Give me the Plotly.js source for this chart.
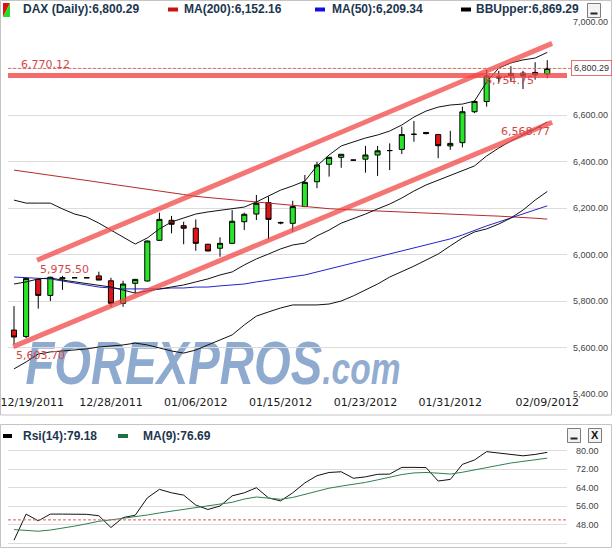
<!DOCTYPE html>
<html>
<head>
<meta charset="utf-8">
<script src="https://cdn.plot.ly/plotly-3.0.1.min.js"></script>
<style>
html,body{margin:0;padding:0;background:#fff;}
#chart{width:613px;height:548px;}
</style>
</head>
<body>
<div id="chart"></div>
<script>
// ---------- DATA ----------
const session = [0,1,2,3,4,5,6,7,8,9,10,11,12,13,14,15,16,17,18,19,20,21,22,23,24,25,26,27,28,29,30,31,32,33,34,35,36,37,38,39,40,41,42,43,44];
const openP  = [5675,5647,5893,5824,5895,5900,5900,5908,5887,5790,5876,5886,6061,6147,6124,6113,6044,6027,6048,6141,6174,6223,6138,6134,6206,6313,6388,6418,6406,6410,6428,6447,6452,6517,6525,6516,6467,6481,6614,6658,6762,6770,6780,6783,6776];
const highP  = [5778,5902,5897,5905,5908,5900,5900,5926,5900,5887,5895,6060,6180,6166,6141,6151,6046,6074,6191,6180,6256,6249,6141,6231,6342,6399,6418,6431,6408,6467,6467,6478,6550,6574,6526,6516,6532,6636,6663,6794,6790,6810,6790,6827,6836];
const lowP   = [5615,5640,5767,5800,5848,5900,5900,5890,5775,5775,5833,5884,6058,6091,6044,6016,6014,5990,6045,6105,6148,6065,6130,6098,6204,6285,6335,6373,6404,6352,6338,6363,6432,6485,6517,6414,6450,6461,6608,6636,6740,6747,6712,6752,6758];
const closeP = [5645,5897,5824,5902,5900,5900,5900,5890,5790,5873,5893,6058,6151,6130,6113,6048,6015,6048,6143,6173,6220,6151,6136,6206,6310,6385,6418,6431,6406,6428,6446,6447,6516,6517,6520,6468,6478,6614,6658,6768,6760,6779,6770,6773,6800.29];

const ma200   = [6363,6356,6348,6341,6333,6326,6318,6311,6303,6296,6288,6280,6273,6265,6258,6250,6245,6240,6236,6231,6226,6222,6216,6212,6207,6202,6197,6194,6192,6190,6188,6185,6183,6181,6179,6176,6174,6172,6170,6167,6165,6163,6161,6156,6152.16];
const ma50    = [5903,5901,5899,5895,5886,5877,5869,5860,5856,5852,5852,5852,5852,5856,5856,5860,5860,5865,5869,5873,5882,5890,5895,5903,5912,5925,5938,5950,5963,5976,5989,6002,6015,6028,6041,6054,6067,6084,6105,6123,6140,6157,6174,6191,6209.34];
const bbUpper = [6234,6221,6221,6221,6196,6174,6161,6135,6105,6075,6045,6071,6110,6140,6157,6174,6183,6191,6196,6204,6226,6252,6277,6295,6316,6381,6428,6467,6484,6501,6514,6531,6557,6591,6617,6634,6643,6647,6660,6742,6802,6824,6837,6845,6869.29];
const bbMid   = [5873,5882,5895,5899,5890,5882,5877,5869,5860,5847,5834,5843,5852,5860,5869,5882,5895,5912,5925,5955,5981,6002,6024,6041,6049,6080,6105,6135,6153,6174,6196,6217,6243,6273,6299,6320,6342,6363,6381,6424,6458,6488,6514,6540,6570];
const bbLower = [5508,5538,5572,5581,5585,5589,5594,5602,5606,5611,5619,5611,5598,5585,5576,5589,5611,5632,5654,5697,5735,5753,5770,5783,5783,5783,5787,5800,5822,5847,5873,5903,5925,5950,5976,6002,6037,6071,6097,6110,6131,6157,6191,6234,6271];

const rsi14 = [41.2,52.5,49.6,52.5,52.5,52.4,52.4,51.8,46.7,51.0,52.0,59.5,63.2,61.7,60.7,56.4,54.5,56.0,60.4,61.7,63.9,59.5,58.2,61.7,66.0,69.1,70.5,70.8,68.0,68.6,69.7,69.8,72.7,72.7,72.6,66.8,67.5,74.0,75.9,79.5,78.8,78.3,77.7,78.3,79.18];
const rsiMa9 = [45.8,45.4,45.1,45.6,46.3,47.3,48.3,49.4,50.0,50.6,51.3,52.1,53.0,53.8,54.6,55.4,56.0,56.7,57.6,59.0,59.9,59.4,58.9,59.7,61.0,62.4,63.7,64.6,65.3,66.2,67.3,68.4,69.6,70.3,70.5,70.2,69.8,70.6,71.7,72.8,73.6,74.6,75.3,76.0,76.69];

const tickPos   = [1.5, 8, 15, 22, 29, 36, 44];
const tickLabel = ['12/19/2011','12/28/2011','01/06/2012','01/15/2012','01/23/2012','01/31/2012','02/09/2012'];

const channelUpperX = [1.9, 44.4];
const channelUpperY = [5975.5, 6908];
const channelLowerX = [-0.06, 44.4];
const channelLowerY = [5603.7, 6568.77];
const resistance = 6770.12;
const lastClose = 6800.29;

// text labels on drawings
const drawLabels = [
  {text:'6,770.12', x:0.45, y:6819, anchor:'left'},
  {text:'5,975.50', x:4.17, y:5936, anchor:'center'},
  {text:'5,603.70', x:2.2,  y:5566, anchor:'center'},
  {text:'6,754.75', x:40.85,y:6750, anchor:'center'},
  {text:'6,568.77', x:42.2, y:6528, anchor:'center'}
];

// ---------- LAYOUT HELPERS ----------
const W = 613, H = 548;
const px = v => v / W;
const py = v => 1 - v / H;
const xDom = [px(8), px(567)];
const xRange = [-0.495, 45.63];
const chanColor = 'rgba(242,70,70,0.75)';

const traces = [
  {type:'scatter', mode:'lines', x:session, y:ma200, xaxis:'x', yaxis:'y', line:{color:'#b52a2a', width:1}, hoverinfo:'skip'},
  {type:'scatter', mode:'lines', x:session, y:ma50,  xaxis:'x', yaxis:'y', line:{color:'#2323c8', width:1}, hoverinfo:'skip'},
  {type:'scatter', mode:'lines', x:session, y:bbUpper, xaxis:'x', yaxis:'y', line:{color:'#111', width:1}, hoverinfo:'skip'},
  {type:'scatter', mode:'lines', x:session, y:bbMid,   xaxis:'x', yaxis:'y', line:{color:'#111', width:1}, hoverinfo:'skip'},
  {type:'scatter', mode:'lines', x:session, y:bbLower, xaxis:'x', yaxis:'y', line:{color:'#111', width:1}, hoverinfo:'skip'},
  {type:'candlestick', x:session, open:openP, high:highP, low:lowP, close:closeP, xaxis:'x', yaxis:'y',
   increasing:{line:{color:'#000', width:1}, fillcolor:'#27e627'},
   decreasing:{line:{color:'#000', width:1}, fillcolor:'#e41414'},
   hoverinfo:'skip'},
  {type:'scatter', mode:'lines', x:channelUpperX, y:channelUpperY, xaxis:'x', yaxis:'y', line:{color:chanColor, width:5}, hoverinfo:'skip'},
  {type:'scatter', mode:'lines', x:channelLowerX, y:channelLowerY, xaxis:'x', yaxis:'y', line:{color:chanColor, width:5}, hoverinfo:'skip'},
  {type:'scatter', mode:'lines', x:session, y:rsi14,  xaxis:'x2', yaxis:'y2', line:{color:'#111', width:1}, hoverinfo:'skip'},
  {type:'scatter', mode:'lines', x:session, y:rsiMa9, xaxis:'x2', yaxis:'y2', line:{color:'#2f7f50', width:1}, hoverinfo:'skip'}
];

const legendFont = {family:'Liberation Sans, Arial, sans-serif', size:12, color:'#1c3650', weight:'bold'};
const redFont = {family:'DejaVu Sans, Verdana, sans-serif', size:11, color:'#d44848'};

const annotations = [
  {xref:'paper', yref:'paper', x:px(212.5), y:py(362), text:'<b><i>FOREXPROS<span style="font-size:44px">.com</span></i></b>', showarrow:false,
   xanchor:'center', yanchor:'middle', font:{family:'Liberation Sans, Arial, sans-serif', size:62, color:'rgba(72,118,178,0.62)'}},
  {xref:'paper', yref:'paper', x:px(20.5), y:py(9), text:'<b>DAX (Daily):6,800.29</b>', showarrow:false, xanchor:'left', yanchor:'middle', font:legendFont},
  {xref:'paper', yref:'paper', x:px(181.5), y:py(9), text:'<b>MA(200):6,152.16</b>', showarrow:false, xanchor:'left', yanchor:'middle', font:legendFont},
  {xref:'paper', yref:'paper', x:px(330), y:py(9), text:'<b>MA(50):6,209.34</b>', showarrow:false, xanchor:'left', yanchor:'middle', font:legendFont},
  {xref:'paper', yref:'paper', x:px(474), y:py(9), text:'<b>BBUpper:6,869.29</b>', showarrow:false, xanchor:'left', yanchor:'middle', font:legendFont},
  {xref:'paper', yref:'paper', x:px(20.5), y:py(436), text:'<b>Rsi(14):79.18</b>', showarrow:false, xanchor:'left', yanchor:'middle', font:legendFont},
  {xref:'paper', yref:'paper', x:px(140.5), y:py(436), text:'<b>MA(9):76.69</b>', showarrow:false, xanchor:'left', yanchor:'middle', font:legendFont},
  {xref:'paper', yref:'paper', x:px(595), y:py(435), text:'<b>X</b>', showarrow:false, xanchor:'center', yanchor:'middle', font:{family:'Liberation Sans, Arial', size:11, color:'#111'}},
  {xref:'paper', yref:'y', x:px(591.5), y:lastClose, text:'6,800.29', showarrow:false, xanchor:'center', yanchor:'middle',
   font:{family:'Liberation Sans Narrow, Liberation Sans, Arial', size:9, color:'#333'}, bgcolor:'#fff', bordercolor:'#e07272', borderwidth:1, borderpad:2}
];
drawLabels.forEach(l => annotations.push({xref:'x', yref:'y', x:l.x, y:l.y, text:l.text, showarrow:false,
  xanchor:l.anchor, yanchor:'middle', font:redFont}));

const shapes = [
  {type:'rect', xref:'paper', yref:'paper', x0:px(0.5), x1:px(611.5), y0:py(415), y1:py(0.5), line:{color:'#c4c4c4', width:1}, layer:'below'},
  {type:'rect', xref:'paper', yref:'paper', x0:px(0.5), x1:px(611.5), y0:py(547.5), y1:py(424.5), line:{color:'#c4c4c4', width:1}, layer:'below'},
  {type:'line', xref:'paper', yref:'y', x0:px(8), x1:px(572), y0:lastClose, y1:lastClose, line:{color:'#e26a6a', width:1, dash:'3px,2px'}},
  {type:'line', xref:'x domain', yref:'y', x0:0, x1:1, y0:resistance, y1:resistance, line:{color:'rgba(242,70,70,0.8)', width:5}},
  {type:'line', xref:'x2 domain', yref:'y2', x0:0, x1:1, y0:50, y1:50, line:{color:'#e05a5a', width:1, dash:'3px,2px'}},
  // legend icons
  {type:'path', xref:'paper', yref:'paper', path:`M${px(3)},${py(3)} L${px(10)},${py(3)} L${px(3)},${py(17)} Z`, fillcolor:'#dd1111', line:{width:0}},
  {type:'path', xref:'paper', yref:'paper', path:`M${px(10)},${py(3)} L${px(10)},${py(17)} L${px(3)},${py(17)} Z`, fillcolor:'#22dd22', line:{width:0}},
  {type:'rect', xref:'paper', yref:'paper', x0:px(168), x1:px(178), y0:py(11.5), y1:py(7.5), fillcolor:'#cc1111', line:{width:0}},
  {type:'rect', xref:'paper', yref:'paper', x0:px(315), x1:px(325), y0:py(11.5), y1:py(7.5), fillcolor:'#1111dd', line:{width:0}},
  {type:'rect', xref:'paper', yref:'paper', x0:px(461), x1:px(471), y0:py(11.5), y1:py(7.5), fillcolor:'#000', line:{width:0}},
  {type:'rect', xref:'paper', yref:'paper', x0:px(3), x1:px(12), y0:py(438), y1:py(434), fillcolor:'#000', line:{width:0}},
  {type:'rect', xref:'paper', yref:'paper', x0:px(118), x1:px(128), y0:py(438), y1:py(434), fillcolor:'#1e6e46', line:{width:0}},
  // buttons
  {type:'rect', xref:'paper', yref:'paper', x0:px(587.5), x1:px(600.5), y0:py(17.5), y1:py(3.5), fillcolor:'#f3f3f3', line:{color:'#7d7d7d', width:1}},
  {type:'line', xref:'paper', yref:'paper', x0:px(590.5), x1:px(597.5), y0:py(13.5), y1:py(13.5), line:{color:'#222', width:2}},
  {type:'rect', xref:'paper', yref:'paper', x0:px(567.5), x1:px(580.5), y0:py(442.5), y1:py(428.5), fillcolor:'#f3f3f3', line:{color:'#7d7d7d', width:1}},
  {type:'line', xref:'paper', yref:'paper', x0:px(570.5), x1:px(577.5), y0:py(438.5), y1:py(438.5), line:{color:'#222', width:2}},
  {type:'rect', xref:'paper', yref:'paper', x0:px(588.5), x1:px(601.5), y0:py(442.5), y1:py(428.5), fillcolor:'#f3f3f3', line:{color:'#7d7d7d', width:1}}
];

const axisTickFont = {family:'Liberation Sans Narrow, Liberation Sans, Arial', size:9, color:'#444'};

const layout = {
  width:W, height:H, margin:{l:0, r:0, t:0, b:0},
  paper_bgcolor:'#fff', plot_bgcolor:'rgba(0,0,0,0)',
  showlegend:false, hovermode:false, dragmode:false, boxgap:0.4,
  xaxis:{domain:xDom, range:xRange, anchor:'y', tickmode:'array', tickvals:tickPos, ticktext:tickLabel,
         tickfont:{family:'DejaVu Sans, Verdana, sans-serif', size:11, color:'#1a1a1a'},
         showgrid:false, zeroline:false, showline:false, ticks:'', rangeslider:{visible:false}, fixedrange:true},
  yaxis:{domain:[py(394), py(22)], range:[5400, 7000], anchor:'x', side:'right', tick0:5400, dtick:200,
         tickformat:',.2f', tickfont:axisTickFont, gridcolor:'#dcdcdc', gridwidth:1, zeroline:false, showline:false,
         ticks:'', ticklabelstandoff:5, fixedrange:true},
  xaxis2:{domain:xDom, range:xRange, anchor:'y2', showticklabels:false, showgrid:false, zeroline:false, showline:false, ticks:'', fixedrange:true},
  yaxis2:{domain:[0, py(448)], range:[37.84, 81.08], anchor:'x2', side:'right', tickmode:'array', tickvals:[40,48,56,64,72,80],
          tickformat:'.2f', tickfont:axisTickFont, gridcolor:'#dcdcdc', zeroline:false, showline:false, ticks:'', ticklabelstandoff:8, fixedrange:true},
  shapes:shapes,
  annotations:annotations
};

const gd = document.getElementById('chart');
Plotly.newPlot(gd, traces, layout, {staticPlot:true, displayModeBar:false}).then(() => {
  const anns = gd.querySelectorAll('.annotation');
  anns.forEach(a => {
    const t = a.querySelector('text.annotation-text');
    if (t && t.textContent.indexOf('FOREXPROS') === 0) {
      t.setAttribute('textLength', '375');
      t.setAttribute('lengthAdjust', 'spacingAndGlyphs');
      const below = gd.querySelector('.layer-below');
      if (below) below.appendChild(a);
    }
  });
});
</script>
</body>
</html>
